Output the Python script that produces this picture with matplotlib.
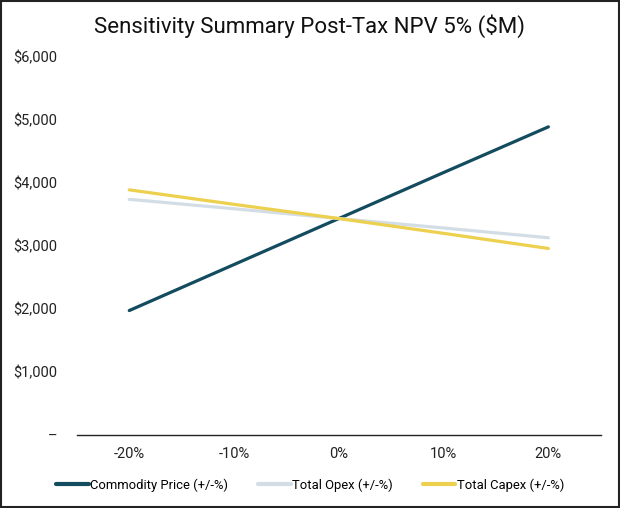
import matplotlib
matplotlib.use("Agg")
import matplotlib.pyplot as plt
from matplotlib.ticker import FuncFormatter

plt.rcParams['font.family'] = ['Roboto', 'DejaVu Sans']

categories = ['-20%', '-10%', '0%', '10%', '20%']
commodity = [1975, 2705, 3435, 4165, 4890]
opex = [3740, 3590, 3435, 3285, 3130]
capex = [3890, 3660, 3435, 3200, 2960]
y_ticks = [0, 1000, 2000, 3000, 4000, 5000, 6000]

fig = plt.figure(figsize=(6.2, 5.08), dpi=100)
ax = fig.add_axes([0.124, 0.1437, 0.845, 0.7443])

x = list(range(len(categories)))
ax.plot(x, commodity, color='#134b5f', lw=2.3, label='Commodity Price (+/-%)', solid_capstyle='round')
ax.plot(x, opex, color='#d3dde5', lw=2.3, label='Total Opex (+/-%)', solid_capstyle='round')
ax.plot(x, capex, color='#ecd04e', lw=2.3, label='Total Capex (+/-%)', solid_capstyle='round')

ax.set_xlim(-0.5, 4.5)
ax.set_ylim(0, 6000)
ax.set_xticks(x)
ax.set_xticklabels(categories)
ax.set_yticks(y_ticks)
ax.yaxis.set_major_formatter(FuncFormatter(lambda v, p: '–' if v == 0 else '${:,.0f}'.format(v)))
ax.tick_params(axis='both', length=0, labelsize=10.5, colors='#222222')
ax.tick_params(axis='y', pad=14.4)
ax.tick_params(axis='x', pad=8.5)
for s in ['top', 'right', 'left']:
    ax.spines[s].set_visible(False)
ax.spines['bottom'].set_color('#222222')
ax.spines['bottom'].set_linewidth(1.0)

fig.text(0.5, 1 - 26 / 508, 'Sensitivity Summary Post-Tax NPV 5% ($M)', ha='center', va='center',
         fontsize=16, color='#111111')

leg = fig.legend(loc='center', bbox_to_anchor=(0.5, 1 - 485 / 508), ncol=3, frameon=False,
                 fontsize=9.4, handlelength=2.5, handletextpad=0.1, columnspacing=2.3)
for line in leg.get_lines():
    line.set_linewidth(3)

fig.patches.append(plt.Rectangle((0.0015, 0.002), 0.997, 0.996, transform=fig.transFigure,
                                 fill=False, edgecolor='#222222', linewidth=1.5))
fig.savefig('out.png', dpi=100)
